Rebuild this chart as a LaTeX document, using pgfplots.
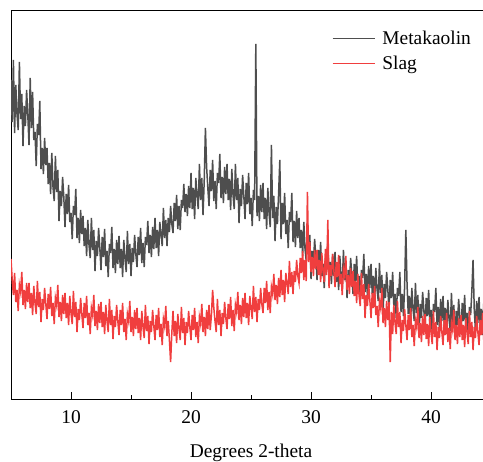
\documentclass[border=0pt]{standalone}
\usepackage{pgfplots}
\pgfplotsset{compat=1.18}
\usepackage{fontspec}
\setmainfont{Liberation Serif}
\definecolor{mkgray}{RGB}{78,78,78}
\definecolor{slagred}{RGB}{240,62,62}
\begin{document}
\begin{tikzpicture}
\begin{axis}[
  name=ax,
  scale only axis,
  width=472bp, height=388bp,
  xmin=5, xmax=44.33,
  ymin=11, ymax=399,
  y dir=reverse,
  axis x line*=box,
  axis y line*=left,
  xtick pos=bottom,
  ytick=\empty,
  xtick={10,20,30,40},
  xticklabels={10,20,30,40},
  minor xtick={15,25,35},
  tick align=inside,
  major tick length=7bp,
  minor tick length=4bp,
  every tick/.style={black, line width=0.9bp},
  axis line style={black, line width=1bp},
  /pgf/number format/assume math mode=true,
  font=\fontsize{19.5}{23}\selectfont,
  tick label style={font=\fontsize{19.5}{23}\selectfont},
  xticklabel style={yshift=-8bp},
  xlabel={Degrees 2-theta},
  xlabel style={at={(axis cs:25,399)}, anchor=north, yshift=-41bp, font=\fontsize{19.5}{23}\selectfont},
  legend style={at={(axis description cs:0.68,0.955)}, anchor=north west, draw=none, fill=none, font=\fontsize{19.5}{23}\selectfont, inner sep=0pt, row sep=6bp},
  legend cell align=left,
  legend image code/.code={\draw[#1, line width=1bp] (0bp,0bp) -- (42bp,0bp); \path (47bp,0bp);},
]
\addplot[mkgray, line width=1.5bp] coordinates {
(5.0,80)(5.1,122)(5.2,60)(5.3,133)(5.4,85)
(5.5,114)(5.6,130)(5.7,62)(5.8,119)(5.9,94)
(6.0,146)(6.1,106)(6.2,126)(6.3,90)(6.4,115)
(6.5,145)(6.6,78)(6.7,128)(6.8,92)(6.9,140)
(7.0,132)(7.1,166)(7.2,124)(7.3,135)(7.4,101)
(7.5,169)(7.6,148)(7.7,174)(7.8,138)(7.9,165)
(8.0,148)(8.1,184)(8.2,163)(8.3,194)(8.4,153)
(8.5,187)(8.6,201)(8.7,156)(8.8,192)(8.9,170)
(9.0,221)(9.1,191)(9.2,206)(9.3,177)(9.4,197)
(9.5,227)(9.6,194)(9.7,214)(9.8,185)(9.9,222)
(10.0,213)(10.1,239)(10.2,206)(10.3,215)(10.4,189)
(10.5,238)(10.6,218)(10.7,243)(10.8,210)(10.9,234)
(11.0,216)(11.1,246)(11.2,228)(11.3,256)(11.4,220)
(11.5,245)(11.6,258)(11.7,218)(11.8,250)(11.9,230)
(12.0,271)(12.1,241)(12.2,256)(12.3,228)(12.4,248)
(12.5,270)(12.6,237)(12.7,257)(12.8,229)(12.9,266)
(13.0,251)(13.1,277)(13.2,244)(13.3,253)(13.4,227)
(13.5,268)(13.6,249)(13.7,273)(13.8,240)(13.9,264)
(14.0,236)(14.1,268)(14.2,249)(14.3,277)(14.4,240)
(14.5,259)(14.6,272)(14.7,231)(14.8,264)(14.9,244)
(15.0,276)(15.1,248)(15.2,262)(15.3,235)(15.4,254)
(15.5,267)(15.6,237)(15.7,255)(15.8,228)(15.9,263)
(16.0,243)(16.1,267)(16.2,237)(16.3,245)(16.4,221)
(16.5,253)(16.6,235)(16.7,257)(16.8,227)(16.9,249)
(17.0,218)(17.1,248)(17.2,230)(17.3,256)(17.4,222)
(17.5,234)(17.6,246)(17.7,208)(17.8,238)(17.9,220)
(18.0,246)(18.1,218)(18.2,232)(18.3,206)(18.4,224)
(18.5,233)(18.6,203)(18.7,221)(18.8,195)(18.9,229)
(19.0,206)(19.1,230)(19.2,200)(19.3,208)(19.4,184)
(19.5,212)(19.6,194)(19.7,216)(19.8,186)(19.9,208)
(20.0,173)(20.1,209)(20.2,188)(20.3,219)(20.4,178)
(20.5,195)(20.6,209)(20.7,164)(20.8,200)(20.9,178)
(21.0,215)(21.1,181)(21.2,128)(21.3,167)(21.4,188)
(21.5,206)(21.6,170)(21.7,191)(21.8,160)(21.9,201)
(22.0,181)(22.1,209)(22.2,173)(22.3,183)(22.4,154)
(22.5,198)(22.6,177)(22.7,203)(22.8,167)(22.9,194)
(23.0,164)(23.1,200)(23.2,179)(23.3,210)(23.4,169)
(23.5,195)(23.6,209)(23.7,164)(23.8,200)(23.9,178)
(24.0,223)(24.1,189)(24.2,206)(24.3,175)(24.4,196)
(24.5,219)(24.6,183)(24.7,204)(24.8,173)(24.9,214)
(25.0,198)(25.1,226)(25.2,190)(25.3,200)(25.4,44)
(25.5,216)(25.6,196)(25.7,221)(25.8,185)(25.9,212)
(26.0,183)(26.1,219)(26.2,198)(26.3,229)(26.4,188)
(26.5,213)(26.6,227)(26.7,145)(26.8,218)(26.9,196)
(27.0,241)(27.1,207)(27.2,224)(27.3,193)(27.4,160)
(27.5,239)(27.6,203)(27.7,224)(27.8,193)(27.9,234)
(28.0,220)(28.1,248)(28.2,212)(28.3,222)(28.4,193)
(28.5,242)(28.6,221)(28.7,247)(28.8,211)(28.9,238)
(29.0,218)(29.1,248)(29.2,230)(29.3,256)(29.4,222)
(29.5,249)(29.6,261)(29.7,223)(29.8,253)(29.9,235)
(30.0,279)(30.1,251)(30.2,265)(30.3,239)(30.4,257)
(30.5,280)(30.6,250)(30.7,268)(30.8,242)(30.9,276)
(31.0,264)(31.1,288)(31.2,258)(31.3,266)(31.4,242)
(31.5,280)(31.6,262)(31.7,284)(31.8,254)(31.9,276)
(32.0,252)(32.1,282)(32.2,264)(32.3,290)(32.4,256)
(32.5,276)(32.6,288)(32.7,250)(32.8,280)(32.9,262)
(33.0,298)(33.1,270)(33.2,284)(33.3,258)(33.4,276)
(33.5,294)(33.6,264)(33.7,282)(33.8,256)(33.9,290)
(34.0,276)(34.1,300)(34.2,270)(34.3,278)(34.4,254)
(34.5,292)(34.6,274)(34.7,296)(34.8,266)(34.9,288)
(35.0,264)(35.1,294)(35.2,276)(35.3,302)(35.4,268)
(35.5,289)(35.6,301)(35.7,263)(35.8,293)(35.9,275)
(36.0,312)(36.1,284)(36.2,298)(36.3,272)(36.4,290)
(36.5,310)(36.6,280)(36.7,298)(36.8,272)(36.9,306)
(37.0,294)(37.1,318)(37.2,288)(37.3,296)(37.4,272)
(37.5,312)(37.6,294)(37.7,316)(37.8,286)(37.9,230)
(38.0,284)(38.1,314)(38.2,296)(38.3,322)(38.4,288)
(38.5,309)(38.6,321)(38.7,283)(38.8,313)(38.9,295)
(39.0,332)(39.1,304)(39.2,318)(39.3,292)(39.4,310)
(39.5,328)(39.6,298)(39.7,316)(39.8,290)(39.9,324)
(40.0,310)(40.1,334)(40.2,304)(40.3,312)(40.4,288)
(40.5,325)(40.6,307)(40.7,329)(40.8,299)(40.9,321)
(41.0,296)(41.1,326)(41.2,308)(41.3,334)(41.4,300)
(41.5,319)(41.6,331)(41.7,293)(41.8,323)(41.9,305)
(42.0,339)(42.1,311)(42.2,325)(42.3,299)(42.4,317)
(42.5,333)(42.6,303)(42.7,321)(42.8,295)(42.9,329)
(43.0,313)(43.1,337)(43.2,307)(43.3,315)(43.4,291)
(43.5,260)(43.6,309)(43.7,331)(43.8,301)(43.9,323)
(44.0,297)(44.1,327)(44.2,309)(44.3,335)(44.4,301)
};
\addlegendentry{Metakaolin}
\addplot[slagred, line width=1.5bp] coordinates {
(5.0,259)(5.1,280)(5.2,295)(5.3,273)(5.4,302)
(5.5,290)(5.6,311)(5.7,285)(5.8,292)(5.9,272)
(6.0,305)(6.1,290)(6.2,309)(6.3,283)(6.4,302)
(6.5,283)(6.6,308)(6.7,293)(6.8,315)(6.9,286)
(7.0,303)(7.1,314)(7.2,281)(7.3,307)(7.4,292)
(7.5,322)(7.6,299)(7.7,310)(7.8,288)(7.9,304)
(8.0,319)(8.1,294)(8.2,309)(8.3,287)(8.4,316)
(8.5,303)(8.6,324)(8.7,298)(8.8,305)(8.9,285)
(9.0,317)(9.1,302)(9.2,321)(9.3,295)(9.4,314)
(9.5,293)(9.6,318)(9.7,303)(9.8,325)(9.9,296)
(10.0,313)(10.1,324)(10.2,291)(10.3,317)(10.4,302)
(10.5,332)(10.6,309)(10.7,320)(10.8,298)(10.9,314)
(11.0,328)(11.1,303)(11.2,318)(11.3,296)(11.4,325)
(11.5,313)(11.6,334)(11.7,308)(11.8,315)(11.9,295)
(12.0,326)(12.1,311)(12.2,330)(12.3,304)(12.4,323)
(12.5,302)(12.6,327)(12.7,312)(12.8,334)(12.9,305)
(13.0,321)(13.1,332)(13.2,299)(13.3,325)(13.4,310)
(13.5,339)(13.6,316)(13.7,327)(13.8,305)(13.9,321)
(14.0,335)(14.1,310)(14.2,325)(14.3,303)(14.4,332)
(14.5,319)(14.6,340)(14.7,314)(14.8,321)(14.9,301)
(15.0,332)(15.1,317)(15.2,336)(15.3,310)(15.4,329)
(15.5,308)(15.6,333)(15.7,318)(15.8,340)(15.9,311)
(16.0,327)(16.1,338)(16.2,305)(16.3,331)(16.4,316)
(16.5,344)(16.6,321)(16.7,332)(16.8,310)(16.9,326)
(17.0,340)(17.1,315)(17.2,330)(17.3,308)(17.4,337)
(17.5,324)(17.6,345)(17.7,319)(17.8,326)(17.9,306)
(18.0,336)(18.1,321)(18.2,340)(18.3,362)(18.4,333)
(18.5,311)(18.6,336)(18.7,321)(18.8,343)(18.9,314)
(19.0,329)(19.1,340)(19.2,307)(19.3,333)(19.4,318)
(19.5,345)(19.6,322)(19.7,333)(19.8,311)(19.9,327)
(20.0,340)(20.1,315)(20.2,330)(20.3,308)(20.4,337)
(20.5,322)(20.6,343)(20.7,317)(20.8,324)(20.9,304)
(21.0,332)(21.1,317)(21.2,336)(21.3,310)(21.4,329)
(21.5,305)(21.6,330)(21.7,315)(21.8,290)(21.9,308)
(22.0,321)(22.1,332)(22.2,299)(22.3,325)(22.4,310)
(22.5,336)(22.6,313)(22.7,324)(22.8,302)(22.9,318)
(23.0,329)(23.1,304)(23.2,319)(23.3,297)(23.4,326)
(23.5,310)(23.6,331)(23.7,305)(23.8,312)(23.9,292)
(24.0,320)(24.1,305)(24.2,324)(24.3,298)(24.4,317)
(24.5,293)(24.6,318)(24.7,303)(24.8,325)(24.9,296)
(25.0,308)(25.1,319)(25.2,286)(25.3,312)(25.4,297)
(25.5,322)(25.6,299)(25.7,310)(25.8,288)(25.9,304)
(26.0,313)(26.1,288)(26.2,303)(26.3,281)(26.4,310)
(26.5,292)(26.6,313)(26.7,287)(26.8,294)(26.9,274)
(27.0,300)(27.1,285)(27.2,304)(27.3,278)(27.4,297)
(27.5,270)(27.6,295)(27.7,280)(27.8,302)(27.9,273)
(28.0,283)(28.1,294)(28.2,261)(28.3,287)(28.4,272)
(28.5,294)(28.6,271)(28.7,282)(28.8,260)(28.9,276)
(29.0,283)(29.1,258)(29.2,273)(29.3,251)(29.4,280)
(29.5,260)(29.6,281)(29.7,192)(29.8,262)(29.9,242)
(30.0,272)(30.1,257)(30.2,276)(30.3,250)(30.4,269)
(30.5,250)(30.6,275)(30.7,260)(30.8,282)(30.9,253)
(31.0,271)(31.1,282)(31.2,249)(31.3,275)(31.4,220)
(31.5,288)(31.6,265)(31.7,276)(31.8,254)(31.9,270)
(32.0,287)(32.1,262)(32.2,277)(32.3,255)(32.4,284)
(32.5,274)(32.6,295)(32.7,269)(32.8,276)(32.9,256)
(33.0,290)(33.1,275)(33.2,294)(33.3,268)(33.4,287)
(33.5,271)(33.6,296)(33.7,281)(33.8,303)(33.9,274)
(34.0,295)(34.1,306)(34.2,273)(34.3,299)(34.4,284)
(34.5,318)(34.6,295)(34.7,306)(34.8,284)(34.9,300)
(35.0,318)(35.1,293)(35.2,308)(35.3,286)(35.4,315)
(35.5,306)(35.6,327)(35.7,301)(35.8,308)(35.9,288)
(36.0,323)(36.1,308)(36.2,327)(36.3,301)(36.4,320)
(36.5,302)(36.6,362)(36.7,312)(36.8,334)(36.9,305)
(37.0,323)(37.1,334)(37.2,301)(37.3,327)(37.4,312)
(37.5,343)(37.6,320)(37.7,331)(37.8,309)(37.9,325)
(38.0,340)(38.1,315)(38.2,330)(38.3,308)(38.4,337)
(38.5,325)(38.6,346)(38.7,320)(38.8,327)(38.9,307)
(39.0,338)(39.1,323)(39.2,342)(39.3,316)(39.4,335)
(39.5,314)(39.6,339)(39.7,324)(39.8,346)(39.9,317)
(40.0,333)(40.1,344)(40.2,311)(40.3,337)(40.4,322)
(40.5,350)(40.6,327)(40.7,338)(40.8,316)(40.9,332)
(41.0,345)(41.1,320)(41.2,335)(41.3,313)(41.4,342)
(41.5,328)(41.6,349)(41.7,323)(41.8,330)(41.9,310)
(42.0,340)(42.1,325)(42.2,344)(42.3,318)(42.4,337)
(42.5,315)(42.6,340)(42.7,325)(42.8,347)(42.9,318)
(43.0,333)(43.1,344)(43.2,311)(43.3,337)(43.4,322)
(43.5,350)(43.6,327)(43.7,338)(43.8,316)(43.9,332)
(44.0,345)(44.1,320)(44.2,335)(44.3,313)(44.4,342)
};
\addlegendentry{Slag}
\end{axis}
\pgfresetboundingbox
\path ([shift={(-11bp,-63bp)}]ax.south west) rectangle ([shift={(472bp,399bp)}]ax.south west);
\end{tikzpicture}
\end{document}
